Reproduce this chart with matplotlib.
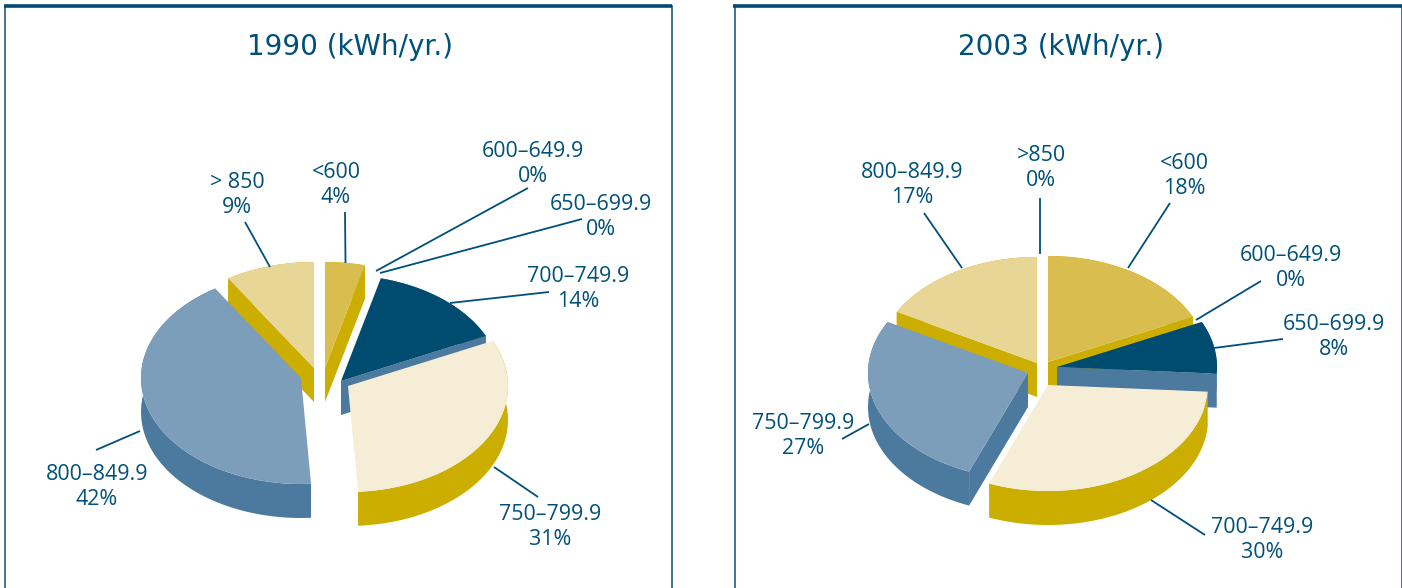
import numpy as np
import matplotlib
matplotlib.use('Agg')
import matplotlib.pyplot as plt

# --- data ---
labels_1990 = ['<600', '600–649.9', '650–699.9', '700–749.9', '750–799.9', '800–849.9', '> 850']
shares_1990 = [4, 0, 0, 14, 31, 42, 9]
labels_2003 = ['<600', '600–649.9', '650–699.9', '700–749.9', '750–799.9', '800–849.9', '>850']
shares_2003 = [18, 0, 8, 30, 27, 17, 0]

INK = '#00507A'
GOLD = '#D9BD4E'
GOLD_SIDE = '#CCAE00'
TAN = '#E8D697'
CREAM = '#F5EDD6'
NAVY = '#004C70'
STEEL = '#7C9EBB'
STEEL_SIDE = '#4B7A9E'

# top colour and side colour per category
top_cols = [GOLD, GOLD, NAVY, NAVY, CREAM, STEEL, TAN]
top_cols_2003 = [GOLD, GOLD, NAVY, CREAM, STEEL, TAN, TAN]
side_of = {GOLD: GOLD_SIDE, TAN: GOLD_SIDE, CREAM: GOLD_SIDE, NAVY: STEEL_SIDE, STEEL: STEEL_SIDE}

RX, RY, DEPTH = 160, 106, 34


def pie3d(ax, shares, apexes, cols):
    # apex of each slice is its exploded position, in pixels
    edges = np.cumsum([0] + list(shares)) / sum(shares) * 2 * np.pi
    slices = []
    for i, s in enumerate(shares):
        if s == 0:
            continue
        t = np.linspace(edges[i], edges[i + 1], 80)
        cx, cy = apexes[i]
        x = cx + RX * np.sin(t)
        y = cy - RY * np.cos(t)
        mid = (edges[i] + edges[i + 1]) / 2
        slices.append((cy - RY * np.cos(mid) * 0.6, cx, cy, x, y, t, cols[i]))
    # painter's order, back to front
    slices.sort(key=lambda item: item[0])
    for _, cx, cy, x, y, t, col in slices:
        side = side_of[col]
        # cut faces: only those turned toward the viewer
        faces = [(x[0], y[0], np.sin(t[0]) < 0), (x[-1], y[-1], np.sin(t[-1]) > 0)]
        for ex, ey, visible in faces:
            if not visible or abs(ex - cx) < 0.1 * RX:
                continue
            ax.fill([cx, ex, ex, cx], [cy, ey, ey + DEPTH, cy + DEPTH], color=side, lw=0)
        ax.fill(np.r_[x, x[::-1]], np.r_[y, y[::-1] + DEPTH], color=side, lw=0)
        ax.fill(np.r_[cx, x], np.r_[cy, y], color=col, lw=0)
        # short drop under the navy apex
        if col == NAVY:
            ax.fill([cx, cx + 6, cx + 6, cx], [cy, cy, cy + DEPTH - 6, cy + DEPTH],
                    color=side, lw=0, zorder=0)


def callouts(ax, labels, shares, text_pos, leaders):
    for lab, s, (tx, ty), line in zip(labels, shares, text_pos, leaders):
        ax.text(tx, ty, f'{lab}\n{s}%', color=INK, ha='center', va='center',
                fontsize=15.4, family='Open Sans', linespacing=1.2)
        ax.plot(line[0], line[1], color=INK, lw=1.3, solid_capstyle='butt')


def frame(ax, left, right, top_left):
    ax.plot([left, left], [6, 588], color='#3F7391', lw=1.4)
    ax.plot([right, right], [6, 588], color='#3F7391', lw=1.4)
    ax.plot([top_left, right], [6, 6], color=NAVY, lw=2.6, solid_capstyle='butt')


fig = plt.figure(figsize=(14.02, 5.88), dpi=100)
ax = fig.add_axes([0, 0, 1, 1])
ax.set_xlim(0, 1402)
ax.set_ylim(588, 0)
ax.axis('off')

frame(ax, 5, 672, 4)
frame(ax, 735, 1402, 733)

ax.text(350, 47, '1990 (kWh/yr.)', color=INK, ha='center', va='center', fontsize=20, family='DejaVu Sans')
ax.text(1061, 47, '2003 (kWh/yr.)', color=INK, ha='center', va='center', fontsize=20, family='DejaVu Sans')

apex_1990 = [(325, 368), None, None, (341, 381), (348, 386), (301, 378), (314, 368)]
apex_2003 = [(1048, 362), None, (1057, 367), (1048, 385), (1028, 373), (1037, 363), None]
pie3d(ax, shares_1990, apex_1990, top_cols)
pie3d(ax, shares_2003, apex_2003, top_cols_2003)

text_1990 = [(336, 185), (533, 164), (601, 217), (578, 289), (550, 527), (97, 487), (237, 195)]
lead_1990 = [([345, 345.5], [212, 263]), ([528, 376], [188, 271]), ([582, 380], [219, 273]),
             ([549, 450], [292, 303]), ([538, 494], [497, 467]), ([140, 96], [431, 450]),
             ([245, 270], [222, 267])]
text_2003 = [(1184, 176), (1291, 268), (1334, 337), (1262, 540), (803, 436), (912, 185), (1041, 168)]
lead_2003 = [([1170, 1128], [203, 268]), ([1261, 1196], [281, 320]), ([1283, 1214], [339, 348]),
             ([1205, 1151], [535, 500]), ([842, 869], [439, 424]), ([924, 962], [213, 268]),
             ([1040, 1040], [198, 254])]
callouts(ax, labels_1990, shares_1990, text_1990, lead_1990)
callouts(ax, labels_2003, shares_2003, text_2003, lead_2003)

fig.savefig('out.png', dpi=100)
